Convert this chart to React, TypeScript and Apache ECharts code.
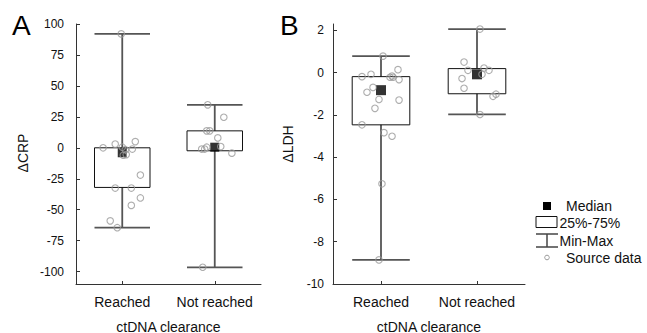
import React, { useEffect, useRef } from "react";
import * as echarts from "echarts";

const categories = ["Reached", "Not reached"];

// Panel A: ΔCRP
const crpTicks = [-100, -75, -50, -25, 0, 25, 50, 75, 100];
// [min, q1, median, q3, max]
const crpReachedStats = [-64.5, -32, -4, 0, 92];
const crpNotReachedStats = [-96.5, -2.4, 0.5, 13.7, 34.7];
const crpReachedValues = [0, 3, 0.5, -1.5, -1, 5, -5.5, -6, -22, -32.5, -32.5, -40.5, -46.5, -59, -64.5, 92];
const crpReachedJitter = [-0.207, -0.076, 0, 0.033, 0.109, 0.141, 0.043, 0.011, 0.196, -0.076, 0.098, 0.196, 0.098, -0.13, -0.054, -0.011];
const crpNotReachedValues = [34.7, 24.7, 13.7, 13.7, 8, -1, -1, 0.5, 1, -4.3, -96.5];
const crpNotReachedJitter = [-0.076, 0.098, -0.087, -0.054, 0.033, -0.141, -0.109, -0.087, 0.065, 0.185, -0.13];

// Panel B: ΔLDH
const ldhTicks = [-10, -8, -6, -4, -2, 0, 2];
const ldhReachedStats = [-8.86, -2.47, -0.83, -0.19, 0.78];
const ldhNotReachedStats = [-1.98, -1.0, -0.08, 0.19, 2.06];
const ldhReachedValues = [0.78, -0.19, -0.08, -0.22, -0.16, -0.22, 0.14, -0.33, -0.7, -0.93, -1.27, -1.3, -1.69, -2.47, -2.84, -3.01, -5.26, -8.86];
const ldhReachedJitter = [0.021, -0.198, -0.104, 0.094, 0.115, 0.125, 0.177, 0.188, -0.083, -0.146, -0.021, 0.188, -0.063, -0.198, 0.031, 0.115, 0.01, -0.021];
const ldhNotReachedValues = [2.06, 0.5, 0.11, 0.22, 0.11, -0.08, -0.28, -0.74, -1.12, -1.02, -1.98];
const ldhNotReachedJitter = [0.031, -0.135, -0.094, 0.073, 0.125, 0.052, -0.156, -0.135, 0.167, 0.198, 0.031];

const legendItems = ["Median", "25%-75%", "Min-Max", "Source data"];

const BOX_HALF = 0.3;
const FONT = "Liberation Sans, Arial, sans-serif";

function boxData(stats: number[][]) {
  return stats.map((s, i) => [i + 0.5, ...s]);
}
function pointData(values: number[], jitter: number[], cat: number) {
  return values.map((v, i) => [cat + 0.5 + jitter[i], v]);
}

function renderBox(params: any, api: any) {
  const x = api.value(0);
  const min = api.value(1);
  const q1 = api.value(2);
  const q3 = api.value(4);
  const max = api.value(5);
  const half = api.size([BOX_HALF, 0])[0];
  const pMin = api.coord([x, min]);
  const pMax = api.coord([x, max]);
  const pQ1 = api.coord([x, q1]);
  const pQ3 = api.coord([x, q3]);
  const cx = pMin[0];
  const ws = { stroke: "#555", lineWidth: 1.8 };
  return {
    type: "group",
    children: [
      { type: "line", shape: { x1: cx, y1: pMax[1], x2: cx, y2: pMin[1] }, style: ws },
      { type: "line", shape: { x1: cx - half, y1: pMax[1], x2: cx + half, y2: pMax[1] }, style: ws },
      { type: "line", shape: { x1: cx - half, y1: pMin[1], x2: cx + half, y2: pMin[1] }, style: ws },
      {
        type: "rect",
        shape: { x: cx - half, y: pQ3[1], width: 2 * half, height: pQ1[1] - pQ3[1] },
        style: { fill: "#fff", stroke: "#111", lineWidth: 1 },
      },
    ],
  };
}

function makeAxes(gridIndex: number, yMin: number, yMax: number, ticks: number[], labelMargin: number) {
  const xAxis = {
    type: "value",
    gridIndex,
    min: 0,
    max: 2,
    axisLine: { show: true, onZero: false, lineStyle: { color: "#333", width: 1 } },
    axisTick: { show: true, inside: true, length: 3, customValues: [0.5, 1.5], lineStyle: { color: "#333" } },
    axisLabel: {
      customValues: [0.5, 1.5],
      formatter: (v: number) => categories[Math.round(v - 0.5)],
      fontSize: 14,
      color: "#111",
      fontFamily: FONT,
      margin: 11,
    },
    splitLine: { show: false },
    name: "ctDNA clearance",
    nameLocation: "middle",
    nameGap: 35.5,
    nameTextStyle: { fontSize: 14, color: "#111", fontFamily: FONT },
  };
  const yAxis = {
    type: "value",
    gridIndex,
    min: yMin,
    max: yMax,
    axisLine: { show: true, onZero: false, lineStyle: { color: "#333", width: 1 } },
    axisTick: { show: true, inside: true, length: 4, customValues: ticks, lineStyle: { color: "#333" } },
    axisLabel: { customValues: ticks, fontSize: 12, color: "#111", fontFamily: FONT, margin: labelMargin },
    splitLine: { show: false },
  };
  return { xAxis, yAxis };
}

function seriesFor(idx: number, stats: number[][], pts: number[][], medSize: number) {
  return [
    {
      type: "custom",
      xAxisIndex: idx,
      yAxisIndex: idx,
      renderItem: renderBox,
      encode: { x: 0, y: [1, 2, 3, 4, 5] },
      data: boxData(stats),
      z: 2,
      silent: true,
    },
    {
      type: "scatter",
      xAxisIndex: idx,
      yAxisIndex: idx,
      symbol: "rect",
      symbolSize: medSize,
      itemStyle: { color: "#000" },
      data: stats.map((s, i) => [i + 0.5, s[2]]),
      z: 3,
    },
    {
      type: "scatter",
      xAxisIndex: idx,
      yAxisIndex: idx,
      symbol: "circle",
      symbolSize: 6.5,
      itemStyle: { color: "rgba(255,255,255,0)", borderColor: "#9a9a9a", borderWidth: 1.1 },
      data: pts,
      z: 4,
    },
  ];
}

export default function App() {
  const ref = useRef<HTMLDivElement>(null);
  useEffect(() => {
    if (!ref.current) return;
    const chart = echarts.init(ref.current, undefined, { renderer: "svg" });
    const a = makeAxes(0, -110, 100, crpTicks, 12);
    const b = makeAxes(1, -10, 2.3, ldhTicks, 9);
    const txt = { fontFamily: FONT, fill: "#111" };
    const option: any = {
      animation: false,
      backgroundColor: "#fff",
      textStyle: { fontFamily: FONT },
      grid: [
        { left: 76, top: 24, width: 185, height: 260, containLabel: false, outerBoundsMode: "none" },
        { left: 333, top: 24, width: 192, height: 260, containLabel: false, outerBoundsMode: "none" },
      ],
      xAxis: [a.xAxis, b.xAxis],
      yAxis: [a.yAxis, b.yAxis],
      series: [
        ...seriesFor(
          0,
          [crpReachedStats, crpNotReachedStats],
          [...pointData(crpReachedValues, crpReachedJitter, 0), ...pointData(crpNotReachedValues, crpNotReachedJitter, 1)],
          9
        ),
        ...seriesFor(
          1,
          [ldhReachedStats, ldhNotReachedStats],
          [...pointData(ldhReachedValues, ldhReachedJitter, 0), ...pointData(ldhNotReachedValues, ldhNotReachedJitter, 1)],
          10
        ),
      ],
      graphic: [
        { type: "text", left: 12, top: 11, style: { ...txt, text: "A", fontSize: 28, fill: "#000" } },
        { type: "text", left: 280, top: 11, style: { ...txt, text: "B", fontSize: 28, fill: "#000" } },
        {
          type: "text",
          x: 22.5,
          y: 153,
          rotation: Math.PI / 2,
          style: { ...txt, text: "ΔCRP", fontSize: 14, align: "center", verticalAlign: "middle" },
        },
        {
          type: "text",
          x: 288,
          y: 144,
          rotation: Math.PI / 2,
          style: { ...txt, text: "ΔLDH", fontSize: 14, align: "center", verticalAlign: "middle" },
        },
        // legend
        { type: "rect", shape: { x: 543, y: 202, width: 8, height: 8 }, style: { fill: "#000" } },
        { type: "text", x: 566, y: 206, style: { ...txt, text: legendItems[0], fontSize: 14, verticalAlign: "middle" } },
        { type: "rect", shape: { x: 536, y: 216.5, width: 21, height: 11 }, style: { fill: "#fff", stroke: "#111", lineWidth: 1 } },
        { type: "text", x: 559.5, y: 223, style: { ...txt, text: legendItems[1], fontSize: 14, verticalAlign: "middle" } },
        { type: "line", shape: { x1: 536, y1: 234, x2: 558, y2: 234 }, style: { stroke: "#444", lineWidth: 1.5 } },
        { type: "line", shape: { x1: 547, y1: 234, x2: 547, y2: 247 }, style: { stroke: "#444", lineWidth: 1.5 } },
        { type: "line", shape: { x1: 536, y1: 247, x2: 558, y2: 247 }, style: { stroke: "#444", lineWidth: 1.5 } },
        { type: "text", x: 559.5, y: 241, style: { ...txt, text: legendItems[2], fontSize: 14, verticalAlign: "middle" } },
        { type: "circle", shape: { cx: 547, cy: 257.5, r: 2.3 }, style: { fill: "none", stroke: "#999", lineWidth: 1 } },
        { type: "text", x: 566, y: 258, style: { ...txt, text: legendItems[3], fontSize: 14, verticalAlign: "middle" } },
      ],
    };
    chart.setOption(option);
    return () => chart.dispose();
  }, []);
  return (
    <div
      ref={ref}
      style={{ position: "absolute", left: 0, top: 0, width: 647, height: 333, background: "#fff" }}
    />
  );
}
